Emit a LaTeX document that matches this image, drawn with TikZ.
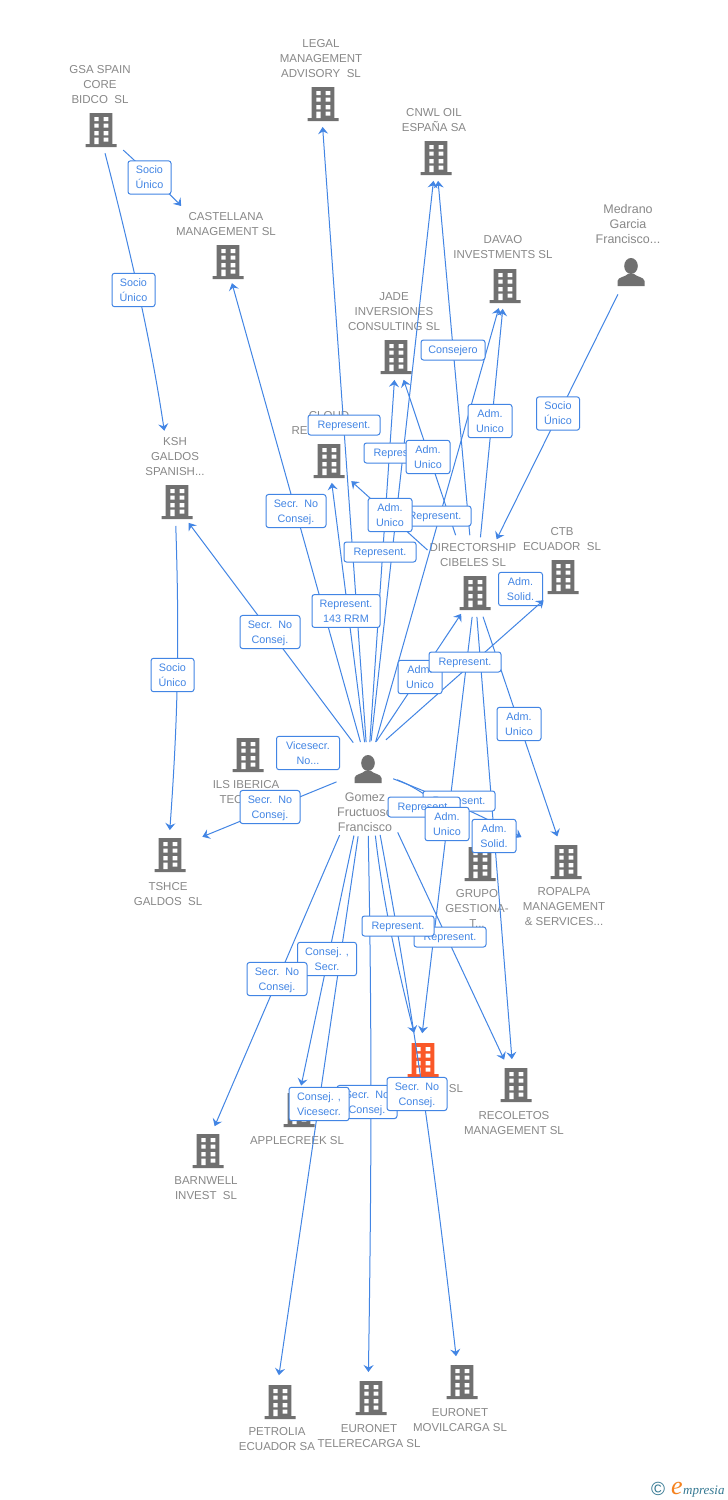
\documentclass[tikz,border=0pt]{standalone}
\usepackage{fontspec}
\setmainfont{Liberation Sans}
\newfontfamily\logofont{Liberation Serif}
\usetikzlibrary{arrows.meta,positioning}
\definecolor{linkblue}{RGB}{66,133,228}
\definecolor{iconGray}{RGB}{112,112,112}
\definecolor{textGray}{RGB}{136,136,136}
\definecolor{hitRed}{RGB}{250,88,40}
\definecolor{logoTeal}{RGB}{52,120,146}
\definecolor{logoOrange}{RGB}{245,130,30}

\begin{document}
\begin{tikzpicture}[x=1pt,y=-1pt,>={Stealth[length=7pt,width=10pt,inset=2.5pt]},
  link/.style={->,linkblue,line width=1pt},
  main node/.style={inner sep=0pt,minimum width=31pt,minimum height=34pt,path picture={
    \begin{scope}[shift={(path picture bounding box.center)}]
      \fill[#1] (-11.3,-17) rectangle (11.3,14) (-15.5,14) rectangle (15.5,17);
      \fill[white] (-6.7,-13) rectangle (-2.3,-9) (2.7,-13) rectangle (7.3,-9)
        (-6.7,-6.3) rectangle (-2.3,-2.3) (2.7,-6.3) rectangle (7.3,-2.3)
        (-6.7,1) rectangle (-2.3,5.3) (2.7,1) rectangle (7.3,5.3)
        (-6.7,7.7) rectangle (-2.3,14) (2.7,7.7) rectangle (7.3,11.7);
    \end{scope}}},
  main node/.default=iconGray,
  person node/.style={inner sep=0pt,minimum width=28pt,minimum height=28pt,path picture={
    \begin{scope}[shift={(path picture bounding box.center)}]
      \fill[iconGray] (0,-6) ellipse (6.8 and 8);
      \fill[iconGray] (-13.5,14) -- (-13.5,9) .. controls (-13,5) and (-6,5) .. (-3,2)
        -- (3,2) .. controls (6,5) and (13,5) .. (13.5,9) -- (13.5,14) -- cycle;
    \end{scope}}},
  main text/.style={inner sep=0pt,align=center,textGray,xshift=-2pt,
    font=\fontsize{11.5}{15}\selectfont},
  person text/.style={main text,font=\fontsize{12.5}{15}\selectfont},
  tag/.style={draw=linkblue,fill=white,line width=1pt,rounded corners=2.5pt,text=linkblue,
    align=center,inner xsep=0pt,inner ysep=5.25pt,minimum height=20pt,minimum width=#1pt,
    text depth=-1.5pt,font=\fontsize{10.8}{15}\selectfont},
  tag/.default=44]

  \useasboundingbox[fill=white] (0,0) rectangle (728,1500);

  \node[main node] (gsa) at (101,130) {};
  \node[main node] (legal) at (323,104) {};
  \node[main node] (cnwl) at (436,158) {};
  \node[main node] (castellana) at (228,262) {};
  \node[main node] (davao) at (505,286) {};
  \node[person node] (medrano) at (631,272) {};
  \node[main node] (jade) at (396,357) {};
  \node[main node] (cloud) at (329,461) {};
  \node[main node] (ksh) at (177,502) {};
  \node[main node] (directorship) at (475,593) {};
  \node[main node] (ctb) at (563,577) {};
  \node[main node] (ils) at (248,755) {};
  \node[person node] (gomez) at (368,769) {};
  \node[main node] (tshce) at (170,855) {};
  \node[main node] (grupo) at (480,864) {};
  \node[main node] (ropalpa) at (566,862) {};
  \node[main node=hitRed] (red) at (423,1060) {};
  \node[main node] (recoletos) at (516,1085) {};
  \node[main node] (applecreek) at (299,1110) {};
  \node[main node] (barnwell) at (208,1151) {};
  \node[main node] (petrolia) at (280,1402) {};
  \node[main node] (telerecarga) at (371,1398) {};
  \node[main node] (movilcarga) at (462,1382) {};

  \node[main text,above=9pt of gsa,xshift=1pt] (gsa text) {GSA SPAIN\\CORE\\BIDCO~~SL};
  \node[main text,above=9pt of legal] (legal text) {LEGAL\\MANAGEMENT\\ADVISORY~~SL};
  \node[main text,above=9pt of cnwl] (cnwl text) {CNWL OIL\\ESPAÑA SA};
  \node[main text,above=9pt of castellana] (castellana text) {CASTELLANA\\MANAGEMENT SL};
  \node[main text,above=10pt of davao] (davao text) {DAVAO\\INVESTMENTS SL};
  \node[person text,above=14pt of medrano,xshift=-1pt] (medrano text) {Medrano\\Garcia\\Francisco...};
  \node[main text,above=9pt of jade] (jade text) {JADE\\INVERSIONES\\CONSULTING SL};
  \node[main text,above=9pt of cloud,xshift=2pt] (cloud text) {CLOUD\\RE\hspace*{59pt}};
  \node[main text,above=9pt of ksh] (ksh text) {KSH\\GALDOS\\SPANISH...};
  \node[main text,above=9pt of directorship] (directorship text) {DIRECTORSHIP\\CIBELES SL};
  \node[main text,above=9pt of ctb,xshift=1pt] (ctb text) {CTB\\ECUADOR~~SL};
  \node[main text,below=8pt of ils] (ils text) {ILS IBERICA\\TEC\hspace*{30pt}};
  \node[person text,below=9pt of gomez,xshift=-1pt] (gomez text) {Gomez\\Fructuoso\\Francisco};
  \node[main text,below=10pt of tshce] (tshce text) {TSHCE\\GALDOS~~SL};
  \node[main text,below=8pt of grupo,xshift=-1pt] (grupo text) {GRUPO\\GESTIONA-\\T...};
  \node[main text,below=8pt of ropalpa] (ropalpa text) {ROPALPA\\MANAGEMENT\\\& SERVICES...};
  \node[main text,anchor=center,xshift=2pt] (red text) at (456,1089) {SL};
  \node[main text,below=9pt of recoletos] (recoletos text) {RECOLETOS\\MANAGEMENT SL};
  \node[main text,below=9pt of applecreek] (applecreek text) {APPLECREEK SL};
  \node[main text,below=8pt of barnwell] (barnwell text) {BARNWELL\\INVEST~~SL};
  \node[main text,below=8pt of petrolia,xshift=-1pt] (petrolia text) {PETROLIA\\ECUADOR SA};
  \node[main text,below=9pt of telerecarga] (telerecarga text) {EURONET\\TELERECARGA SL};
  \node[main text,below=9pt of movilcarga] (movilcarga text) {EURONET\\MOVILCARGA SL};

  \node[tag=44] (directorship ctb) at (520.5,589) {Adm.\\Solid.};

  \draw[link,shorten <=30pt,shorten >=73pt] (gsa.center) to[bend left=4] (castellana.center);
  \draw[link,shorten <=24pt,shorten >=72pt] ([xshift=-2pt]gsa.center) to[bend left=3] ([xshift=-2pt]ksh.center);
  \draw[link,shorten <=24pt,shorten >=25pt] ([xshift=-2pt]ksh.center) to[bend left=3] ([xshift=-2pt]tshce.center);
  \draw[link,shorten <=28pt,shorten >=22pt] (gomez.center) to ([xshift=-2pt]castellana.center);
  \draw[link,shorten <=33pt,shorten >=26pt] ([xshift=5pt]gomez.center) to ([xshift=-4pt]ksh.center);
  \draw[link,shorten <=27pt,shorten >=22pt] (gomez.center) to (cloud.center);
  \draw[link,shorten <=27pt,shorten >=23pt] (gomez.center) to ([xshift=-2pt]legal.center);
  \draw[link,shorten <=27pt,shorten >=23pt] (gomez.center) to (jade.center);
  \draw[link,shorten <=28pt,shorten >=23pt] (gomez.center) to (cnwl.center);
  \draw[link,shorten <=28pt,shorten >=23pt] (gomez.center) to (davao.center);
  \draw[link,shorten <=33pt,shorten >=25pt] ([xshift=-10pt]gomez.center) to (directorship.center);
  \draw[link,shorten <=44pt,shorten >=26pt] ([xshift=-15pt]gomez.center) to ([yshift=-6pt]ctb.center);
  \draw[link,shorten <=58pt,shorten >=23pt] (directorship.center) to (cnwl.center);
  \draw[link,shorten <=61pt,shorten >=24pt] (directorship.center) to (jade.center);
  \draw[link,shorten <=56pt,shorten >=23pt] (directorship.center) to (davao.center);
  \draw[link,shorten <=64pt,shorten >=30pt] (directorship.center) to (cloud.center);
  \draw[link,shorten <=25pt,shorten >=60pt] ([xshift=-2pt]medrano.center) to ([xshift=-5pt]directorship.center);
  \draw[link,shorten <=24pt,shorten >=27pt] (directorship.center) to ([xshift=-4pt]red.center);
  \draw[link,shorten <=24pt,shorten >=26pt] (directorship.center) to ([xshift=-2pt]recoletos.center);
  \draw[link,shorten <=25pt,shorten >=27pt] (directorship.center) to (ropalpa.center);
  \draw[link,shorten <=34pt,shorten >=35pt] (gomez.center) to ([yshift=5pt]tshce.center);
  \draw[link,shorten <=27pt,shorten >=51pt] (gomez.center) to[bend left=4] (ropalpa.center);
  \draw[link,shorten <=31pt,shorten >=45pt] (gomez.center) to[bend left=20] (grupo.center);
  \draw[link,shorten <=72pt,shorten >=27pt] (gomez.center) to ([xshift=-4pt]barnwell.center);
  \draw[link,shorten <=68pt,shorten >=25pt] (gomez.center) to ([xshift=-3pt]applecreek.center);
  \draw[link,shorten <=68pt,shorten >=27pt] (gomez.center) to ([xshift=-5pt]petrolia.center);
  \draw[link,shorten <=67pt,shorten >=26pt] ([xshift=-1pt]gomez.center) to[bend left=1] ([xshift=-3pt]telerecarga.center);
  \draw[link,shorten <=67pt,shorten >=28pt] (gomez.center) to[bend right=4] ([xshift=-2pt]red.center);
  \draw[link,shorten <=67pt,shorten >=26pt] (gomez.center) to[bend left=2] ([xshift=-3pt]movilcarga.center);
  \draw[link,shorten <=70pt,shorten >=28pt] (gomez.center) to (recoletos.center);

  \node[tag=43] (gsa castellana) at (149.5,177.5) {Socio\\Único};
  \node[tag=43] (gsa ksh) at (133.5,290) {Socio\\Único};
  \node[tag=43] (ksh tshce) at (172.5,675) {Socio\\Único};
  \node[tag=60] (gomez castellana) at (296,511) {Secr.~~No\\Consej.};
  \node[tag=60] (gomez ksh) at (270,632) {Secr.~~No\\Consej.};
  \node[tag=68] (gomez cloud) at (346,611) {Represent.\\143 RRM};
  \node[tag=72] (gomez legal) at (344,425) {Represent.};
  \node[tag=72] (gomez cnwl) at (400,453) {Represent.};
  \node[tag=44] (directorship jade) at (428,457) {Adm.\\Unico};
  \node[tag=72] (gomez davao) at (435,516) {Represent.};
  \node[tag=44] (directorship cloud) at (390,515) {Adm.\\Unico};
  \node[tag=72] (gomez jade) at (380,552) {Represent.};
  \node[tag=64] (directorship cnwl) at (453,350) {Consejero};
  \node[tag=44] (directorship davao) at (490,421) {Adm.\\Unico};
  \node[tag=43] (medrano directorship) at (558,413.5) {Socio\\Único};
  \node[tag=44] (gomez directorship) at (420,677) {Adm.\\Unico};
  \node[tag=72] (gomez ctb) at (465,662) {Represent.};
  \node[tag=44] (directorship ropalpa) at (519,724) {Adm.\\Unico};
  \node[tag=63] (gomez ils) at (308,753) {Vicesecr.\\No...};
  \node[tag=60] (gomez tshce) at (270,807) {Secr.~~No\\Consej.};
  \node[tag=72] (gomez ropalpa) at (459,801) {Represent.};
  \node[tag=72] (gomez grupo) at (424,807) {Represent.};
  \node[tag=44] (directorship red) at (447,824) {Adm.\\Unico};
  \node[tag=44] (directorship recoletos) at (494,836) {Adm.\\Solid.};
  \node[tag=72] (gomez recoletos) at (450,937) {Represent.};
  \node[tag=72] (gomez red) at (398,926) {Represent.};
  \node[tag=59] (gomez applecreek) at (327,959) {Consej. ,\\Secr.};
  \node[tag=60] (gomez barnwell) at (277,979) {Secr.~~No\\Consej.};
  \node[tag=60] (gomez telerecarga) at (367,1102) {Secr.~~No\\Consej.};
  \node[tag=60] (gomez movilcarga) at (417,1094) {Secr.~~No\\Consej.};
  \node[tag=60] (gomez petrolia) at (319,1104) {Consej. ,\\Vicesecr.};

  \node[anchor=center,inner sep=0pt,logoTeal,font=\fontsize{19}{19}\selectfont] (logo mark) at (658,1489) {©};
  \node[anchor=base west,inner sep=0pt,logoOrange,font=\logofont\itshape\fontsize{26}{26}\selectfont] (logo e) at (671,1494) {e};
  \node[anchor=base west,inner sep=0pt,logoTeal,font=\logofont\itshape\fontsize{13}{13}\selectfont] (logo word) at (683,1494) {mpresia};
\end{tikzpicture}
\end{document}
